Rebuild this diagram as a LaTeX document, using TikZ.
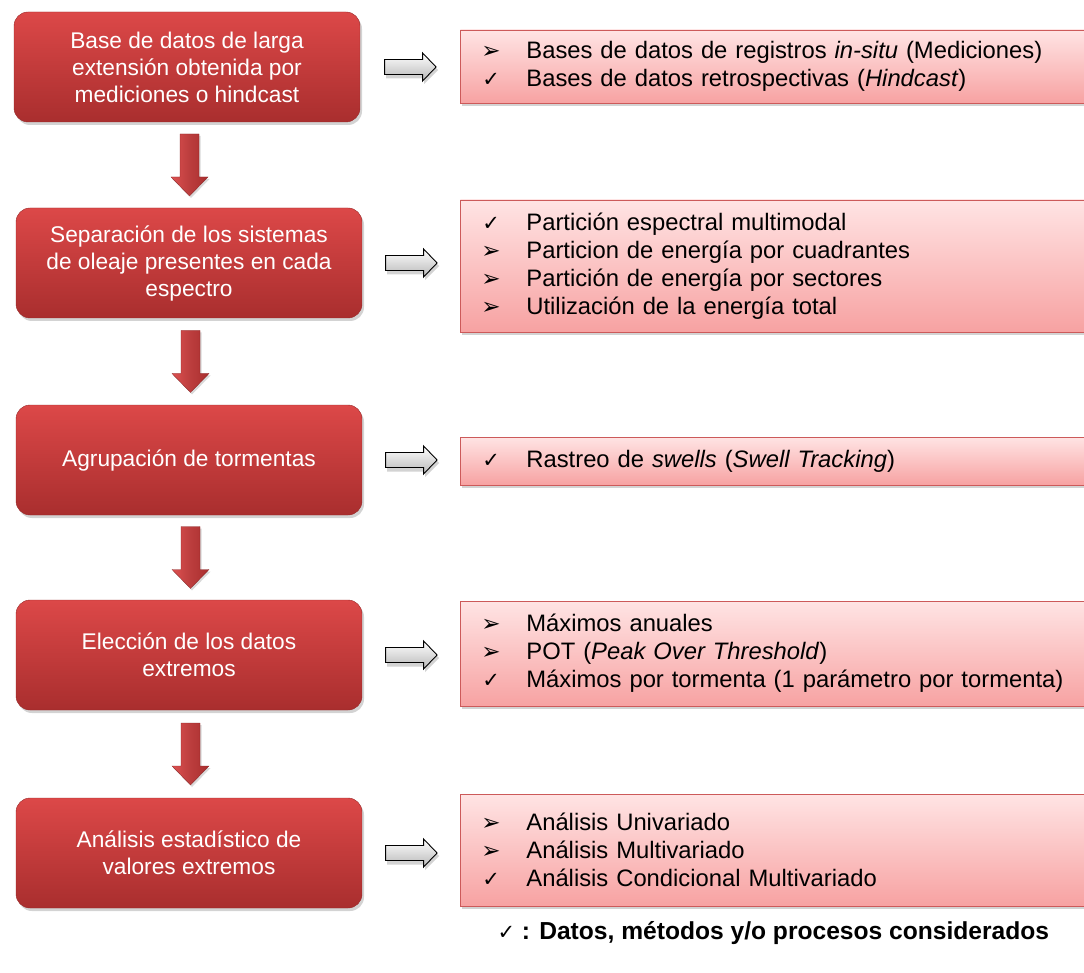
\documentclass[tikz,border=0pt]{standalone}
\usepackage{fontspec}
\setmainfont{Liberation Sans}
\newfontfamily\symfont{DejaVu Sans}
\usetikzlibrary{shadows,calc}
\definecolor{redtop}{HTML}{DC4848}
\definecolor{redbot}{HTML}{A92E2E}
\definecolor{pinktop}{HTML}{FFE4E4}
\definecolor{pinkbot}{HTML}{F7A2A2}
\definecolor{pinkline}{HTML}{CC5A5A}
\definecolor{arrowgray}{HTML}{B8B8B8}
\newcommand{\chk}{\makebox[46pt][l]{\hspace{2pt}{\symfont\fontsize{21}{20}\selectfont ✓}}}
\newcommand{\arr}{\makebox[46pt][l]{\hspace{1pt}{\symfont\fontsize{23}{20}\selectfont ➢}}}
\tikzset{
  stepbox/.style={rounded corners=14pt, top color=redtop, bottom color=redbot,
    draw=redbot!90!black, line width=0.4pt, minimum width=346pt, minimum height=110pt,
    text=white, align=center, font=\fontsize{22.7}{27}\selectfont,
    drop shadow={shadow xshift=2pt, shadow yshift=-3pt, opacity=0.35}},
  infobox/.style={top color=pinktop, bottom color=pinkbot, draw=pinkline, line width=0.8pt,
    anchor=west, minimum width=640pt, text width=600pt, inner xsep=18pt, align=left,
    font=\fontsize{23.8}{28}\selectfont,
    drop shadow={shadow xshift=2pt, shadow yshift=-3pt, opacity=0.35}},
  redarrow/.pic={
    \fill[gray, opacity=0.3] (-8,-29) -- (11,-29) -- (11,14) -- (20,14) -- (1.5,33) -- (-17,14) -- (-8,14) -- cycle;
    \shade[left color=redtop!95!white, right color=redbot, middle color=redtop!85!black]
      (-9.5,-31) -- (9.5,-31) -- (9.5,12) -- (18.5,12) -- (0,31) -- (-18.5,12) -- (-9.5,12) -- cycle;
    \draw[redbot!80!black, line width=0.3pt]
      (-9.5,-31) -- (9.5,-31) -- (9.5,12) -- (18.5,12) -- (0,31) -- (-18.5,12) -- (-9.5,12) -- cycle;
  },
  grayarrow/.pic={
    \fill[gray, opacity=0.35] (-24,-5.5) -- (14,-5.5) -- (14,-11) -- (28,3) -- (14,17) -- (14,11.5) -- (-24,11.5) -- cycle;
    \shade[top color=white, bottom color=arrowgray, draw=black, line width=0.9pt]
      (-25.5,-7.5) -- (12.5,-7.5) -- (12.5,-14) -- (26,0) -- (12.5,14) -- (12.5,7.5) -- (-25.5,7.5) -- cycle;
  }
}
\begin{document}
\begin{tikzpicture}[x=1pt,y=-1pt]
\useasboundingbox (0,0) rectangle (1084,973);
\clip (0,0) rectangle (1084,973);

% left process boxes
\node[stepbox] (L1) at (187,67) {Base de datos de larga\\extensión obtenida por\\mediciones o hindcast};
\node[stepbox] (L2) at (189,263) {Separación de los sistemas\\de oleaje presentes en cada\\espectro};
\node[stepbox] (L3) at (189,460) {Agrupación de tormentas};
\node[stepbox] (L4) at (189,655) {Elección de los datos\\extremos};
\node[stepbox] (L5) at (189,853) {Análisis estadístico de\\valores extremos};

% right info boxes
\node[infobox, minimum height=73pt] (R1) at (460,66.5) {\arr Bases de datos de registros \textit{in-situ} (Mediciones)\\
\chk Bases de datos retrospectivas (\textit{Hindcast})};
\node[infobox, minimum height=132pt] (R2) at (460,266) {\chk Partición espectral multimodal\\
\arr Particion de energía por cuadrantes\\
\arr Partición de energía por sectores\\
\arr Utilización de la energía total};
\node[infobox, minimum height=48pt] (R3) at (460,461) {\chk Rastreo de \textit{swells} (\textit{Swell Tracking})};
\node[infobox, minimum height=105pt] (R4) at (460,653.5) {\arr Máximos anuales\\
\arr POT (\textit{Peak Over Threshold})\\
\chk Máximos por tormenta (1 parámetro por tormenta)};
\node[infobox, minimum height=112pt] (R5) at (460,850) {\arr Análisis Univariado\\
\arr Análisis Multivariado\\
\chk Análisis Condicional Multivariado};

% downward red arrows
\foreach \a/\b in {L1/L2, L2/L3, L3/L4, L4/L5}
  \pic at ($(\a.south)!0.5!(\b.north) + (1.5,0)$) {redarrow};

% gray arrows
\foreach \i in {1,...,5}
  \pic at ($(L\i.east)!0.5!(R\i.west |- L\i.east)$) {grayarrow};

% legend
\node[anchor=west, font=\bfseries\fontsize{24.6}{28}\selectfont] (leg) at (494,933)
  {{\symfont\mdseries\fontsize{21}{20}\selectfont ✓} : Datos, métodos y/o procesos considerados};
\end{tikzpicture}
\end{document}
